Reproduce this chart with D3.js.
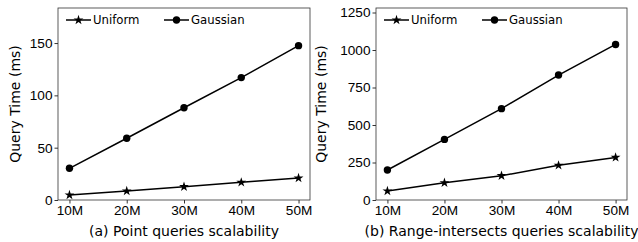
<!DOCTYPE html>
<html>
<head>
<meta charset="utf-8">
<script src="https://cdn.jsdelivr.net/npm/d3@7"></script>
<style>
  body { margin: 0; background: #fff; }
  svg { font-family: "DejaVu Sans", sans-serif; }
</style>
</head>
<body>
<svg id="chart" width="638" height="242"></svg>
<script>
// data
var sizes = [10, 20, 30, 40, 50];
var sizeLabels = ['10M', '20M', '30M', '40M', '50M'];
var pointUniform = [4.8, 8.6, 12.7, 16.9, 21];
var pointGaussian = [30.3, 59, 88.2, 117, 147.5];
var rangeUniform = [60, 115, 162, 231, 284];
var rangeGaussian = [200, 404, 609, 833, 1037];
var pointTicks = [0, 50, 100, 150];
var rangeTicks = [0, 250, 500, 750, 1000, 1250];

var svg = d3.select('#chart');

var panels = [
    {left: 58, right: 310, ymax: 183.5, ticks: pointTicks, uni: pointUniform, gau: pointGaussian,
     caption: '(a) Point queries scalability', labelX: 15},
    {left: 376, right: 627, ymax: 1280, ticks: rangeTicks, uni: rangeUniform, gau: rangeGaussian,
     caption: '(b) Range-intersects queries scalability', labelX: 321}
];
var plotTop = 8, plotBottom = 200;

panels.forEach(function(p) {
    var x = d3.scaleLinear().domain([8, 52]).range([p.left, p.right]);
    var y = d3.scaleLinear().domain([0, p.ymax]).range([plotBottom, plotTop]);
    var g = svg.append('g');

    // x axis
    var xa = g.append('g')
        .attr('transform', 'translate(0,' + plotBottom + ')')
        .call(d3.axisBottom(x).tickValues(sizes).tickSize(3.5).tickPadding(2)
            .tickFormat(function(d, i) { return sizeLabels[i]; }));
    xa.select('.domain').remove();
    xa.selectAll('text').style('font-size', '13.6px').attr('fill', '#000');
    xa.selectAll('line').attr('stroke', '#000').attr('stroke-width', 0.8);

    // y axis
    var ya = g.append('g')
        .attr('transform', 'translate(' + p.left + ',0)')
        .call(d3.axisLeft(y).tickValues(p.ticks).tickSize(3.5).tickPadding(2).tickFormat(d3.format('d')));
    ya.select('.domain').remove();
    ya.selectAll('text').style('font-size', '13.6px').attr('fill', '#000');
    ya.selectAll('line').attr('stroke', '#000').attr('stroke-width', 0.8);

    // frame
    g.append('rect')
        .attr('x', p.left).attr('y', plotTop)
        .attr('width', p.right - p.left).attr('height', plotBottom - plotTop)
        .attr('fill', 'none').attr('stroke', '#333').attr('stroke-width', 0.8);

    // y label
    g.append('text')
        .attr('transform', 'translate(' + p.labelX + ',' + (plotTop + plotBottom) / 2 + ') rotate(-90)')
        .attr('text-anchor', 'middle')
        .attr('dy', '0.35em')
        .style('font-size', '14px')
        .text('Query Time (ms)');

    // caption
    g.append('text')
        .attr('x', (p.left + p.right) / 2)
        .attr('y', 236)
        .attr('text-anchor', 'middle')
        .style('font-size', '14px')
        .text(p.caption);

    var line = d3.line().x(function(d, i) { return x(sizes[i]); }).y(function(d) { return y(d); });

    // Gaussian
    g.append('path').datum(p.gau).attr('d', line)
        .attr('fill', 'none').attr('stroke', '#000').attr('stroke-width', 1.5);
    g.selectAll('.gau').data(p.gau).join('circle').attr('class', 'gau')
        .attr('cx', function(d, i) { return x(sizes[i]); })
        .attr('cy', function(d) { return y(d); })
        .attr('r', 3.7).attr('fill', '#000');

    // Uniform
    g.append('path').datum(p.uni).attr('d', line)
        .attr('fill', 'none').attr('stroke', '#000').attr('stroke-width', 1.5);
    g.selectAll('.uni').data(p.uni).join('path').attr('class', 'uni')
        .attr('transform', function(d, i) { return 'translate(' + x(sizes[i]) + ',' + y(d) + ')'; })
        .attr('d', d3.symbol(d3.symbolStar, 30))
        .attr('fill', '#000');

    // legend
    var leg = g.append('g').attr('transform', 'translate(' + p.left + ',20)');
    var items = [{name: 'Uniform', sym: 'star', dx: 8}, {name: 'Gaussian', sym: 'circle', dx: 106}];
    items.forEach(function(it) {
        leg.append('line').attr('x1', it.dx).attr('x2', it.dx + 25)
            .attr('stroke', '#000').attr('stroke-width', 1.5);
        if (it.sym === 'star') {
            leg.append('path').attr('transform', 'translate(' + (it.dx + 12.5) + ',0)')
                .attr('d', d3.symbol(d3.symbolStar, 30)).attr('fill', '#000');
        } else {
            leg.append('circle').attr('cx', it.dx + 12.5).attr('r', 3.7).attr('fill', '#000');
        }
        leg.append('text').attr('x', it.dx + 27).attr('dy', '0.35em')
            .style('font-size', '11.7px').text(it.name);
    });
});
</script>
</body>
</html>
